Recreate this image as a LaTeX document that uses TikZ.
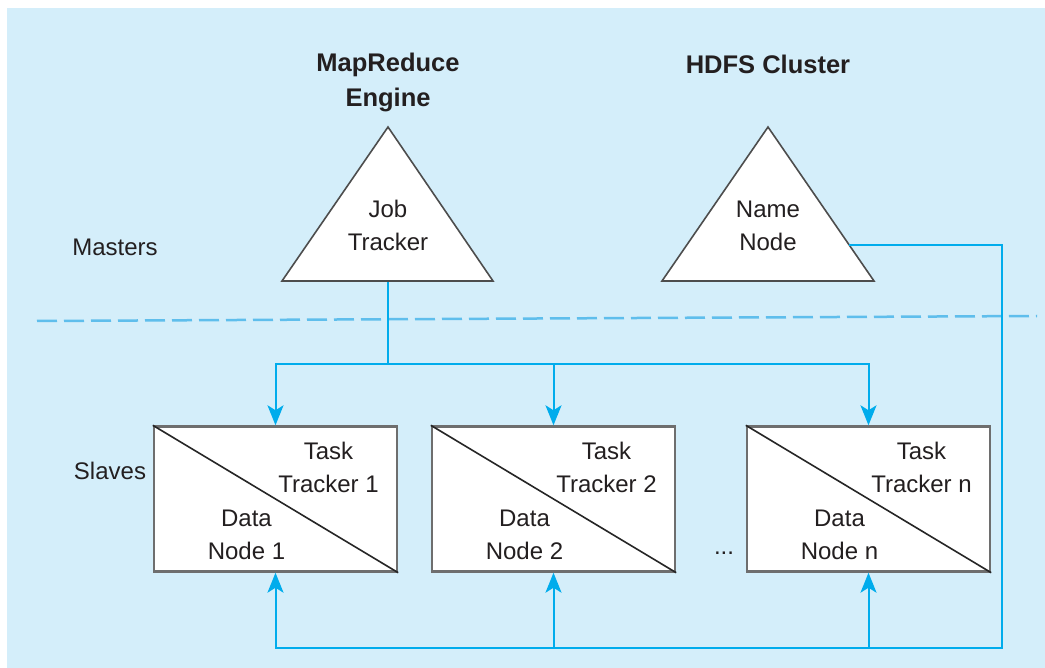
\documentclass[tikz,border=0pt]{standalone}
\usepackage{fontspec}
\setmainfont{Liberation Sans}
\usetikzlibrary{arrows.meta}
\definecolor{bgblue}{RGB}{212,238,250}
\definecolor{lineblue}{RGB}{0,172,236}
\definecolor{dashblue}{RGB}{95,190,236}
\definecolor{txt}{RGB}{35,31,32}
\definecolor{edge}{RGB}{110,110,110}
\tikzset{
  lbl/.style={font=\fontsize{24}{33}\selectfont, text=txt, align=center, inner sep=0pt},
  title/.style={font=\fontsize{25.5}{35}\selectfont\bfseries, text=txt, align=center, inner sep=0pt},
  tri/.style={draw=edge!70!black, line width=1.6pt, fill=white, line join=miter},
  slavebox/.style={draw=edge, line width=2.4pt, fill=white, minimum width=243pt, minimum height=145pt, inner sep=0pt},
  diag/.style={draw=black!85, line width=1.6pt},
  wire/.style={draw=lineblue, line width=2pt},
  arr/.style={wire, -{Stealth[length=20pt,width=16pt,inset=5pt]}},
}
\begin{document}
\begin{tikzpicture}[x=1pt,y=-1pt]
\useasboundingbox (0,0) rectangle (1045,668);
\fill[bgblue] (7,8) rectangle (1045,668);
% dashed separator
\draw[draw=dashblue, line width=2.5pt, dash pattern=on 20pt off 7pt] (37,321) -- (1037,316);
% titles
\node[title] (mre) at (388,82) {MapReduce\\Engine};
\node[title] (hdfs) at (768,64) {HDFS Cluster};
\node[lbl] (masters) at (115,247) {Masters};
\node[lbl] (slaves) at (110,471) {Slaves};
% triangles
\coordinate (jtA) at (388,127);
\coordinate (jtL) at (282,281);
\coordinate (jtR) at (493,281);
\draw[tri] (jtA) -- (jtR) -- (jtL) -- cycle;
\node[lbl] (jt) at (388,225) {Job\\Tracker};
\coordinate (nnA) at (768,127);
\coordinate (nnL) at (662,281);
\coordinate (nnR) at (874,281);
\draw[tri] (nnA) -- (nnR) -- (nnL) -- cycle;
\node[lbl] (nn) at (768,226) {Name\\Node};
% slave boxes
\node[slavebox] (b1) at (275.5,499) {};
\node[slavebox] (b2) at (553.5,499) {};
\node[slavebox] (b3) at (868.5,499) {};
\foreach \b/\k in {b1/1,b2/2,b3/n}{
  \draw[diag] (\b.north west) -- (\b.south east);
  \node[lbl] (\b t) at ([xshift=53pt,yshift=32pt]\b.center) {Task\\Tracker \k};
  \node[lbl] (\b d) at ([xshift=-29pt,yshift=-36pt]\b.center) {Data\\Node \k};
}
\node[lbl] (dots) at (724,553) {...};
% job tracker distribution
\coordinate (jtB) at (388,282);
\coordinate (split) at (388,364);
\draw[wire] (jtB) -- (split);
\draw[arr] (split) -| (b1.north);
\draw[arr] (split) -| (b2.north);
\draw[arr] (split) -| (b3.north);
% name node return
\coordinate (nnE) at (849,245);
\coordinate (corner) at (1002,648);
\draw[arr] (nnE) -| (corner) -| (b1.south);
\draw[arr] (b2.south |- corner) -- (b2.south);
\draw[arr] (b3.south |- corner) -- (b3.south);
\end{tikzpicture}
\end{document}
